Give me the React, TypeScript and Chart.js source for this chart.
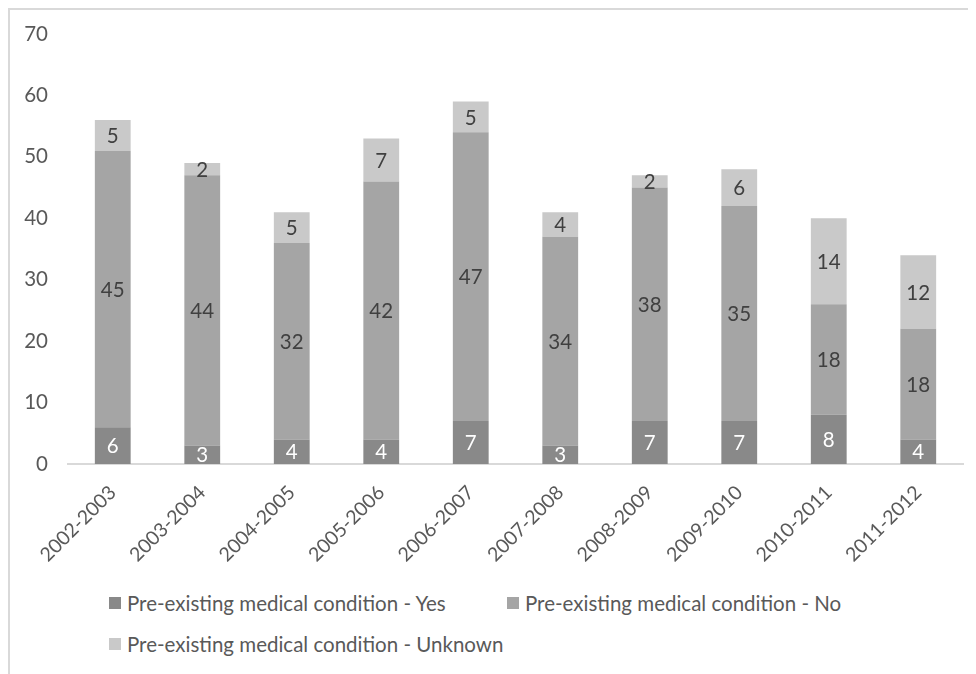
import React, { useEffect, useRef } from "react";
import { Chart, registerables } from "chart.js";

Chart.register(...registerables);

const categories = [
  "2002-2003",
  "2003-2004",
  "2004-2005",
  "2005-2006",
  "2006-2007",
  "2007-2008",
  "2008-2009",
  "2009-2010",
  "2010-2011",
  "2011-2012",
];
const seriesNames = [
  "Pre-existing medical condition - Yes",
  "Pre-existing medical condition - No",
  "Pre-existing medical condition - Unknown",
];
const yesValues = [6, 3, 4, 4, 7, 3, 7, 7, 8, 4];
const noValues = [45, 44, 32, 42, 47, 34, 38, 35, 18, 18];
const unknownValues = [5, 2, 5, 7, 5, 4, 2, 6, 14, 12];
const seriesColors = ["#898989", "#a5a5a5", "#c9c9c9"];
const labelColors = ["#ffffff", "#404040", "#404040"];
const yMin = 0;
const yMax = 70;
const yStep = 10;

const FONT = "Lato, 'Open Sans', sans-serif";

const dataLabelPlugin = {
  id: "stackLabels",
  afterDatasetsDraw(chart: any) {
    const ctx = chart.ctx;
    ctx.save();
    ctx.font = `20.5px ${FONT}`;
    ctx.textAlign = "center";
    ctx.textBaseline = "middle";
    chart.data.datasets.forEach((ds: any, i: number) => {
      const meta = chart.getDatasetMeta(i);
      if (meta.hidden) return;
      meta.data.forEach((bar: any, j: number) => {
        const p = bar.getProps(["x", "y", "base"], true);
        ctx.fillStyle = labelColors[i];
        ctx.fillText(String(ds.data[j]), p.x, (p.y + p.base) / 2 + 1);
      });
    });
    ctx.restore();
  },
};

export default function App() {
  const canvasRef = useRef<HTMLCanvasElement | null>(null);

  useEffect(() => {
    if (!canvasRef.current) return;
    const series = [yesValues, noValues, unknownValues];
    const chart = new Chart(canvasRef.current, {
      type: "bar",
      data: {
        labels: categories,
        datasets: series.map((vals, i) => ({
          label: seriesNames[i],
          data: vals,
          backgroundColor: seriesColors[i],
          borderWidth: 0,
          barPercentage: 0.4,
          categoryPercentage: 1,
        })),
      },
      options: {
        animation: false,
        responsive: false,
        maintainAspectRatio: false,
        layout: { padding: { top: 24, right: 13, left: 0, bottom: 0 } },
        plugins: {
          legend: { display: false },
          tooltip: { enabled: false },
        },
        scales: {
          x: {
            stacked: true,
            grid: { display: false, drawTicks: false },
            border: { display: true, color: "#d9d9d9", width: 2 },
            ticks: {
              color: "#595959",
              font: { family: FONT, size: 19.5 },
              minRotation: 45,
              maxRotation: 45,
              padding: 17,
            },
            afterFit: (scale: any) => {
              scale.height = 116;
            },
          },
          y: {
            stacked: true,
            min: yMin,
            max: yMax,
            grid: { display: false, drawTicks: false },
            border: { display: false },
            ticks: {
              stepSize: yStep,
              color: "#595959",
              font: { family: FONT, size: 20.5 },
              padding: 20,
            },
            afterFit: (scale: any) => {
              scale.width = 58;
              scale.paddingTop = 0;
              scale.paddingBottom = 0;
            },
          },
        },
      },
      plugins: [dataLabelPlugin],
    });
    return () => chart.destroy();
  }, []);

  const legendItem = (i: number, left: number, top: number) => (
    <div
      key={i}
      style={{
        position: "absolute",
        left,
        top,
        height: 24,
        display: "flex",
        alignItems: "center",
        whiteSpace: "nowrap",
        fontFamily: FONT,
        fontSize: 20.5,
        color: "#595959",
      }}
    >
      <span
        style={{
          display: "inline-block",
          width: 12,
          height: 12,
          background: seriesColors[i],
          marginRight: 6,
        }}
      />
      <span>{seriesNames[i]}</span>
    </div>
  );

  return (
    <div
      style={{
        position: "relative",
        width: 966,
        height: 664,
        borderTop: "2px solid #d9d9d9",
        borderLeft: "2px solid #d9d9d9",
        overflow: "hidden",
        background: "#ffffff",
      }}
    >
      <canvas
        ref={canvasRef}
        width={966}
        height={570}
        style={{ position: "absolute", left: 0, top: 0, width: 966, height: 570 }}
      />
      {legendItem(0, 99, 581)}
      {legendItem(1, 497, 581)}
      {legendItem(2, 99, 622)}
    </div>
  );
}
